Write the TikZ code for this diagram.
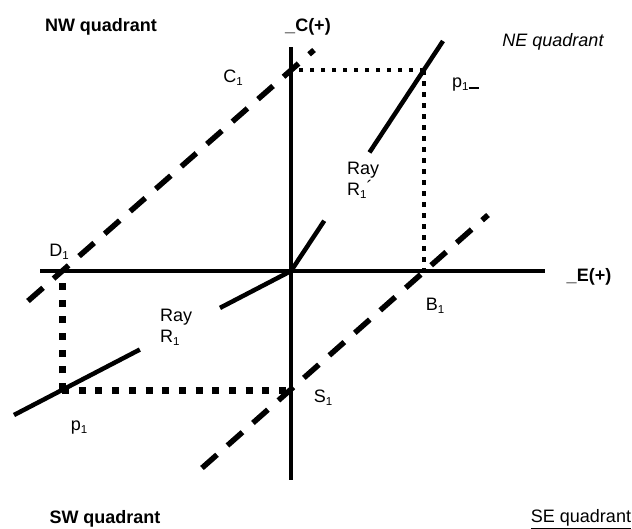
\documentclass[tikz,border=0pt]{standalone}
\usepackage{fontspec}
\setmainfont{Liberation Sans}
\usetikzlibrary{calc}
\newcommand\sbs[1]{\raisebox{-0.3ex}{\fontsize{11.5}{11.5}\selectfont #1}}
\begin{document}
\begin{tikzpicture}[x=1pt,y=-1pt,
  axis/.style={line width=4pt},
  ray/.style={line width=4.5pt},
  guide/.style={line width=5.5pt, dash pattern=on 20pt off 14pt},
  dotsm/.style={line width=4.5pt, dash pattern=on 4.5pt off 6.5pt},
  dotlg/.style={line width=7pt, dash pattern=on 7pt off 9.7pt},
  lbl/.style={inner sep=0pt, align=left, font=\fontsize{18}{21}\selectfont},
  blbl/.style={inner sep=0pt, font=\fontsize{18}{21}\selectfont\bfseries},
]
\useasboundingbox (0,0) rectangle (632,528);
% key points
\coordinate (O) at (291,271);
\coordinate (Cp) at (291,70);
\coordinate (Dp) at (62,271);
\coordinate (Bp) at (424,271);
\coordinate (Sp) at (291,390);
\coordinate (P1) at (62,390);
\coordinate (P1n) at (424,70);
% axis ends
\coordinate (Ctop) at (291,47);
\coordinate (Cbot) at (291,480);
\coordinate (Eleft) at (40,271);
\coordinate (Eright) at (545,271);
% guide line ends
\coordinate (NWa) at (28,301);
\coordinate (NWb) at (314,50);
\coordinate (SEa) at (202,468);
\coordinate (SEb) at (488,215);
% ray ends
\coordinate (NEend) at (443,41);
\coordinate (SWend) at (14,415);

% dashed guide lines
\draw[guide] (NWa) -- (NWb);
\draw[guide] (SEa) -- (SEb);
% dotted projections
\draw[dotsm] (P1n) -- (Cp);
\draw[dotsm] (P1n) -- (Bp);
\draw[dotlg] (P1) -- (Dp);
\draw[dotlg] (P1) -- (Sp);
% axes
\draw[axis] (Ctop) -- (Cbot);
\draw[axis] (Eleft) -- (Eright);
% rays
\draw[ray] (O) -- ($(O)!0.25!(P1n)$);
\draw[ray] ($(O)!0.59!(P1n)$) -- (NEend);
\draw[ray] (O) -- ($(O)!0.31!(P1)$);
\draw[ray] ($(O)!0.66!(P1)$) -- (SWend);

% labels
\node[blbl] (nw) at (101,27) {NW quadrant};
\node[blbl] (cax) at (308,27) {\_C(+)};
\node[lbl, font=\fontsize{18}{21}\selectfont\itshape] (ne) at (553,42) {NE quadrant};
\node[lbl] (c1) at (233,78) {C\sbs{1}};
\node[lbl, anchor=west] (p1n) at (452,85) {p\sbs{1}\rule[-0.1ex]{10pt}{1.6pt}};
\node[lbl, anchor=west] (rayne) at (347,180) {Ray\\R\sbs{1}\raisebox{0.2ex}{´}};
\node[lbl] (d1) at (59,252) {D\sbs{1}};
\node[lbl, anchor=west] (raysw) at (160,327) {Ray\\R\sbs{1}};
\node[lbl] (p1) at (79,428) {p\sbs{1}};
\node[lbl] (s1) at (323,398) {S\sbs{1}};
\node[lbl] (b1) at (435,306) {B\sbs{1}};
\node[blbl] (eax) at (589,277) {\_E(+)};
\node[blbl] (sw) at (105,519) {SW quadrant};
\node[lbl] (se) at (581,519) {\underline{SE quadrant}};
\end{tikzpicture}
\end{document}
